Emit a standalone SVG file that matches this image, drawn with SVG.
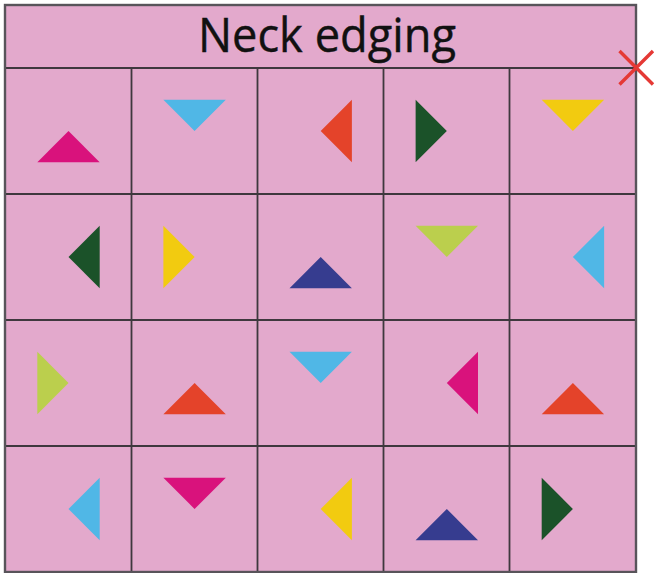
<svg xmlns="http://www.w3.org/2000/svg" width="657" height="573" viewBox="0 0 657 573">
<style>
.bg{fill:#e3a9cc}
.grid{stroke:#3f383e;stroke-width:1.8;fill:none}
.outer{stroke:#58545a;stroke-width:2.4;fill:none}
.title{font-family:"Open Sans","Liberation Sans",sans-serif;font-size:47px;fill:#111111;stroke:#111111;stroke-width:0.4}
.mg{fill:#d9127c}.cy{fill:#50b7e6}.or{fill:#e4432a}.dg{fill:#1b5229}.ye{fill:#f2cb10}.yg{fill:#bbcf4d}.nv{fill:#363c8f}
.x{stroke:#e53935;stroke-width:3.4;fill:none}
</style>
<g id="board">
<rect class="bg" x="5" y="5" width="631" height="567"/>
</g>
<g id="header">
<text class="title" x="327" y="52" text-anchor="middle" textLength="258" lengthAdjust="spacingAndGlyphs">Neck edging</text>
</g>
<g id="grid-lines">
<path class="grid" d="M5 68H636M5 194H636M5 320H636M5 446H636M131.5 68V572M257.5 68V572M383.5 68V572M509.5 68V572"/>
<rect class="outer" x="5" y="5" width="631" height="567"/>
</g>
<g id="marker-x">
<path class="x" d="M619.5 51L653 84.5M619.5 84.5L653 51"/>
</g>
<g id="triangles">
<polygon id="t00" class="mg" points="68.5,131 37.3,162.2 99.7,162.2"/>
<polygon id="t01" class="cy" points="163.4,99.8 225.8,99.8 194.6,131"/>
<polygon id="t02" class="or" points="351.9,99.8 351.9,162.2 320.7,131"/>
<polygon id="t03" class="dg" points="415.6,99.8 415.6,162.2 446.8,131"/>
<polygon id="t04" class="ye" points="541.7,99.8 604.1,99.8 572.9,131"/>
<polygon id="t10" class="dg" points="99.7,225.8 99.7,288.2 68.5,257"/>
<polygon id="t11" class="ye" points="163.4,225.8 163.4,288.2 194.6,257"/>
<polygon id="t12" class="nv" points="320.7,257 289.5,288.2 351.9,288.2"/>
<polygon id="t13" class="yg" points="415.6,225.8 478,225.8 446.8,257"/>
<polygon id="t14" class="cy" points="604.1,225.8 604.1,288.2 572.9,257"/>
<polygon id="t20" class="yg" points="37.3,351.8 37.3,414.2 68.5,383"/>
<polygon id="t21" class="or" points="194.6,383 163.4,414.2 225.8,414.2"/>
<polygon id="t22" class="cy" points="289.5,351.8 351.9,351.8 320.7,383"/>
<polygon id="t23" class="mg" points="478,351.8 478,414.2 446.8,383"/>
<polygon id="t24" class="or" points="572.9,383 541.7,414.2 604.1,414.2"/>
<polygon id="t30" class="cy" points="99.7,477.8 99.7,540.2 68.5,509"/>
<polygon id="t31" class="mg" points="163.4,477.8 225.8,477.8 194.6,509"/>
<polygon id="t32" class="ye" points="351.9,477.8 351.9,540.2 320.7,509"/>
<polygon id="t33" class="nv" points="446.8,509 415.6,540.2 478,540.2"/>
<polygon id="t34" class="dg" points="541.7,477.8 541.7,540.2 572.9,509"/>
</g>
</svg>
